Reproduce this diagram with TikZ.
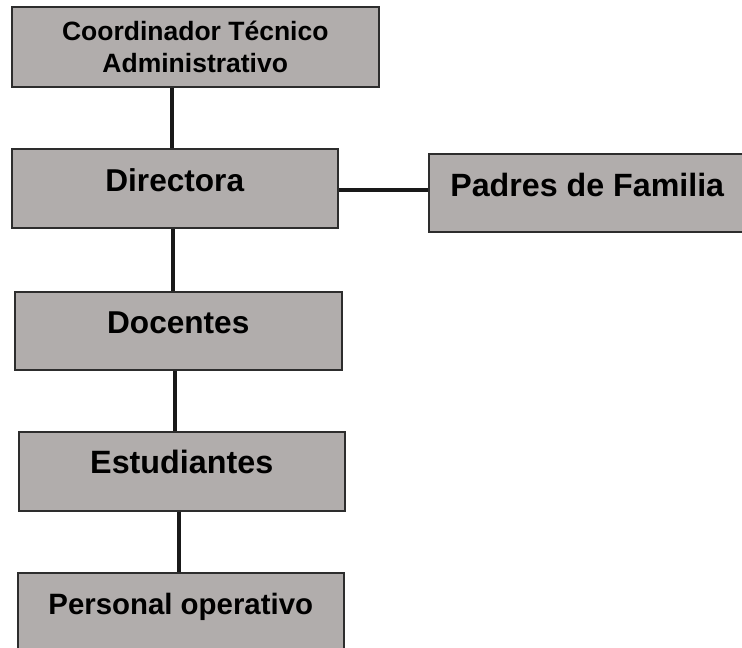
\documentclass[tikz,border=0pt]{standalone}
\usepackage{fontspec}
\setmainfont{Liberation Sans}
\definecolor{boxfill}{RGB}{177,173,172}
\definecolor{boxline}{RGB}{45,45,45}
\definecolor{linkcol}{RGB}{25,25,25}
\begin{document}
\begin{tikzpicture}[x=1pt,y=-1pt,
  box/.style={draw=boxline, fill=boxfill, line width=1.5pt, anchor=north west,
    inner sep=0pt, align=center},
  bigtext/.style={font=\fontsize{31.6}{31}\selectfont\bfseries},
  link/.style={draw=linkcol, line width=4pt}]
\useasboundingbox (0,0) rectangle (742,648);
% boxes
\node[box, minimum width=367pt, minimum height=80pt,
  font=\fontsize{26.5}{32}\selectfont\bfseries] (coord) at (11,6)
  {Coordinador Técnico\\Administrativo};
\node[box, bigtext, minimum width=326pt, minimum height=79pt,
  text height=22pt, text depth=15pt] (dir) at (11,148) {Directora};
\node[box, bigtext, font=\fontsize{32.2}{31}\selectfont\bfseries,
  minimum width=317pt, minimum height=78pt,
  text height=22pt, text depth=14pt] (pad) at (428,153) {Padres de Familia};
\node[box, bigtext, minimum width=327pt, minimum height=78pt,
  text height=22pt, text depth=17pt] (doc) at (14,291) {Docentes};
\node[box, bigtext, font=\fontsize{32.3}{31}\selectfont\bfseries,
  minimum width=326pt, minimum height=79pt,
  text height=23pt, text depth=19pt] (est) at (18,431) {Estudiantes};
\node[box, minimum width=326pt, minimum height=80pt,
  font=\fontsize{29.4}{29}\selectfont\bfseries,
  text height=21pt, text depth=18pt] (per) at (17,572) {Personal operativo};
% helper coordinates for connector positions
\coordinate (xa) at (172,0);
\coordinate (xb) at (173,0);
\coordinate (xc) at (175,0);
\coordinate (xd) at (179,0);
\coordinate (hy) at (0,190);
% connectors
\draw[link] (coord.south -| xa) -- (dir.north -| xa);
\draw[link] (dir.south -| xb) -- (doc.north -| xb);
\draw[link] (doc.south -| xc) -- (est.north -| xc);
\draw[link] (est.south -| xd) -- (per.north -| xd);
\draw[link] (dir.east |- hy) -- (pad.west |- hy);
\end{tikzpicture}
\end{document}
